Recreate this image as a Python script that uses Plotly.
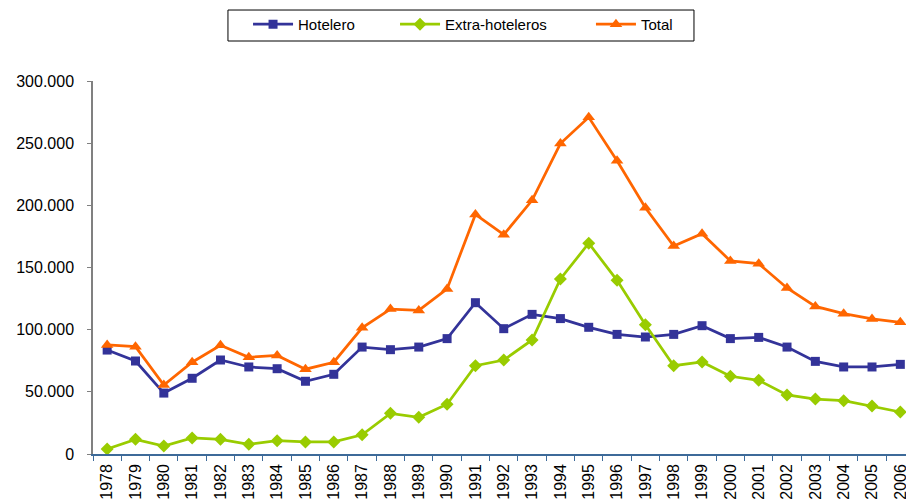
import plotly.graph_objects as go

years = [str(y) for y in range(1978, 2007)]
hotelero = [83600, 74800, 49000, 60900, 75600, 70000, 68600, 58500, 64100, 86000,
            83900, 86000, 92800, 121700, 100800, 112300, 108900, 101900, 96200, 94100,
            96200, 103200, 92800, 93800, 86000, 74500, 70000, 70000, 72100]
extra = [4000, 11800, 6400, 12900, 11800, 7800, 10700, 9700, 9700, 15500,
         32700, 29500, 40000, 71000, 75600, 91700, 140800, 169500, 139700, 104000,
         71000, 74000, 62500, 59300, 47500, 44200, 42900, 38600, 33800]
total = [87700, 86300, 55400, 73800, 87400, 77800, 79300, 68200, 73800, 101500,
         116600, 115500, 132800, 192700, 176400, 204000, 249700, 270800, 235900, 198100,
         167200, 177200, 155300, 153100, 133500, 118700, 112900, 108600, 105900]
y_ticks = [0, 50000, 100000, 150000, 200000, 250000, 300000]

fig = go.Figure()
fig.add_trace(go.Scatter(x=years, y=hotelero, name="Hotelero", mode="lines+markers",
                         line=dict(color="#333399", width=2.75),
                         marker=dict(symbol="square", size=9, color="#333399"),
                         cliponaxis=False, legend="legend"))
fig.add_trace(go.Scatter(x=years, y=extra, name="Extra-hoteleros", mode="lines+markers",
                         line=dict(color="#99cc00", width=2.75),
                         marker=dict(symbol="diamond", size=10, color="#99cc00"),
                         cliponaxis=False, legend="legend2"))
fig.add_trace(go.Scatter(x=years, y=total, name="Total", mode="lines+markers",
                         line=dict(color="#ff6600", width=2.75),
                         marker=dict(symbol="triangle-up", size=11, color="#ff6600"),
                         cliponaxis=False, legend="legend3"))

def leg(x):
    return dict(orientation="h", x=x, xanchor="left", y=1.1515, yanchor="middle",
                bgcolor="rgba(0,0,0,0)", borderwidth=0, font=dict(size=15),
                itemwidth=40)

fig.update_layout(
    width=906, height=501,
    margin=dict(l=93, r=0, t=81, b=47, autoexpand=False),
    paper_bgcolor="white", plot_bgcolor="white",
    separators=",.",
    font=dict(family="Liberation Sans, Arial, sans-serif", size=15, color="black"),
    showlegend=True,
    legend=leg(0.1907), legend2=leg(0.3715), legend3=leg(0.6125),
    shapes=[dict(type="rect", xref="paper", yref="paper", x0=0.166, x1=0.7392,
                 y0=1.1072, y1=1.1903, line=dict(color="black", width=1),
                 fillcolor="rgba(0,0,0,0)", layer="below")],
    xaxis=dict(type="category", range=[-0.5, 28.2], tickangle=-90,
               showline=True, linecolor="#3d6a99", linewidth=1.5,
               ticks="outside", tickson="boundaries", ticklen=5, tickcolor="#3d6a99",
               ticklabelstandoff=2,
               showgrid=False, zeroline=False, tickfont=dict(size=16),
               automargin=False),
    yaxis=dict(range=[0, 300000], tickvals=y_ticks, tickformat=",.0f",
               showline=True, linecolor="#808080", linewidth=1.5,
               ticks="outside", ticklen=4, tickcolor="#808080",
               ticklabelstandoff=10,
               showgrid=False, zeroline=False, tickfont=dict(size=16),
               automargin=False),
)

fig.write_html("out.html", config={"displayModeBar": False},
               post_script="document.body.style.margin='0';")
